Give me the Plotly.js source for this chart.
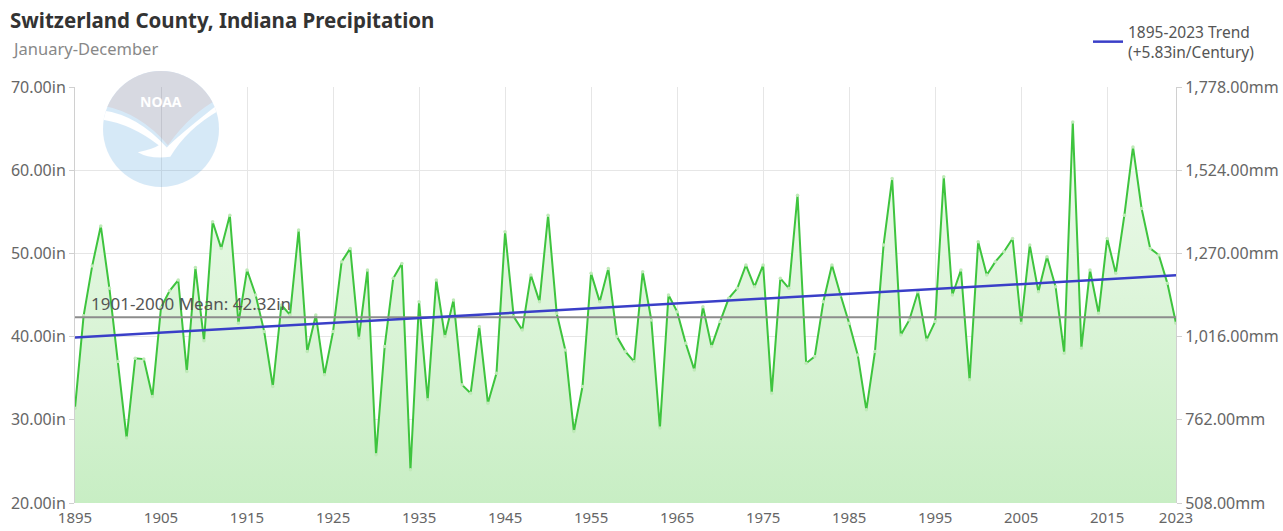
<!DOCTYPE html>
<html>
<head>
<meta charset="utf-8">
<script src="https://cdn.plot.ly/plotly-3.0.1.min.js"></script>
<style>html,body{margin:0;padding:0;background:#fff;}#chart{width:1283px;height:531px;}</style>
</head>
<body>
<div id="chart"></div>
<script>
const years = [];
for (let y = 1895; y <= 2023; y++) years.push(y);

const precipIn = [
  31.4, 42.5, 48.5, 53.3, 45.8, 37.0, 27.8, 37.4, 37.3, 32.8,
  43.5, 45.5, 46.8, 35.8, 48.3, 39.5, 53.8, 50.6, 54.6, 41.6,
  48.0, 45.0, 40.6, 34.0, 43.8, 42.6, 52.8, 38.2, 42.6, 35.4,
  40.6, 49.0, 50.6, 39.8, 48.0, 25.8, 38.8, 47.0, 48.8, 24.0,
  44.2, 32.4, 46.8, 40.0, 44.4, 34.2, 33.2, 41.2, 32.0, 35.6,
  52.6, 42.4, 40.8, 47.4, 44.2, 54.6, 42.8, 38.4, 28.6, 34.0,
  47.6, 44.2, 48.2, 40.0, 38.2, 37.0, 47.8, 42.0, 29.0, 45.0,
  43.0, 39.2, 36.0, 43.6, 38.8, 41.8, 44.6, 45.8, 48.6, 46.0,
  48.6, 33.2, 47.0, 45.8, 57.0, 36.8, 37.6, 44.2, 48.6, 45.0,
  41.6, 37.8, 31.2, 38.2, 51.0, 59.0, 40.2, 42.0, 45.4, 39.6,
  41.8, 59.2, 45.0, 48.0, 34.8, 51.4, 47.4, 49.0, 50.2, 51.8,
  41.6, 51.0, 45.4, 49.6, 46.0, 38.0, 65.8, 38.6, 48.0, 42.8,
  51.8, 47.6, 54.6, 62.8, 55.4, 50.6, 49.8, 46.4, 41.6
];

const trendYears = [1895, 2023];
const trendIn = [39.9, 47.36];
const meanValue = 42.32;
const meanLabel = '1901-2000 Mean: 42.32in';
const trendLabel = '1895-2023 Trend<br>(+5.83in/Century)';

const xTickVals = [1895, 1905, 1915, 1925, 1935, 1945, 1955, 1965, 1975, 1985, 1995, 2005, 2015, 2023];
const yTickVals = [20, 30, 40, 50, 60, 70];
const yTickText = ['20.00in', '30.00in', '40.00in', '50.00in', '60.00in', '70.00in'];
const y2TickVals = [508, 762, 1016, 1270, 1524, 1778];
const y2TickText = ['508.00mm', '762.00mm', '1,016.00mm', '1,270.00mm', '1,524.00mm', '1,778.00mm'];

const FONT = 'Noto Sans, Open Sans, sans-serif';

const logoSvg = "<svg xmlns='http://www.w3.org/2000/svg' viewBox='0 0 100 100'>" +
  "<defs><clipPath id='c'><circle cx='50' cy='50' r='50'/></clipPath></defs>" +
  "<circle cx='50' cy='50' r='50' fill='#3a95dc'/>" +
  "<g clip-path='url(#c)'>" +
  "<path d='M0,0 H100 V24 Q76,36 56,64 Q32,36 0,30 Z' fill='#3b4470'/>" +
  "<path d='M0,34 Q30,38 55,66 Q62,58 100,28 V34 Q72,50 58,74 Q40,76 30,70 Q44,67 48,64 Q25,46 0,42 Z' fill='white'/>" +
  "</g></svg>";
const logoUri = 'data:image/svg+xml;charset=utf-8,' + encodeURIComponent(logoSvg);

const traces = [
  {
    x: years, y: precipIn, type: 'scatter', mode: 'lines+markers',
    line: {color: '#3ec43e', width: 2},
    marker: {size: 3.5, color: '#bfeab8', line: {width: 0}},
    fill: 'tozeroy',
    fillgradient: {type: 'vertical', start: 20, stop: 66,
      colorscale: [[0, '#c8eec4'], [1, '#effbed']]},
    showlegend: false, hoverinfo: 'x+y'
  },
  {
    x: [1895, 2023], y: [meanValue, meanValue], type: 'scatter', mode: 'lines',
    line: {color: '#8c8c8c', width: 2}, showlegend: false, hoverinfo: 'skip'
  },
  {
    x: trendYears, y: trendIn, type: 'scatter', mode: 'lines',
    line: {color: '#3a3fc8', width: 2.5}, name: trendLabel, showlegend: true
  },
  {
    x: [1895, 2023], y: [508, 1778], type: 'scatter', mode: 'markers', yaxis: 'y2',
    marker: {opacity: 0}, showlegend: false, hoverinfo: 'skip'
  }
];

const layout = {
  width: 1283, height: 531,
  paper_bgcolor: '#ffffff', plot_bgcolor: '#ffffff',
  margin: {l: 75, r: 107, t: 87, b: 28},
  font: {family: FONT, color: '#666666', size: 16},
  title: {
    text: '<b>Switzerland County, Indiana Precipitation</b>',
    x: 10 / 1283, xref: 'container', xanchor: 'left',
    y: 1 - 21 / 531, yref: 'container', yanchor: 'middle',
    font: {family: FONT, size: 20.5, color: '#333333'}
  },
  xaxis: {
    range: [1895, 2023], tickvals: xTickVals, ticktext: xTickVals.map(String),
    showgrid: true, gridcolor: '#e6e6e6', gridwidth: 1,
    zeroline: false, showline: false, ticks: 'outside', ticklen: 1,
    tickcolor: 'rgba(0,0,0,0)',
    tickfont: {size: 15, color: '#666'}
  },
  yaxis: {
    range: [20, 70], tickvals: yTickVals, ticktext: yTickText,
    showgrid: true, gridcolor: '#e6e6e6', zeroline: false,
    showline: true, linecolor: '#d0d0d0', ticks: 'outside', ticklen: 5, tickcolor: '#d0d0d0',
    tickfont: {size: 16, color: '#666'}
  },
  yaxis2: {
    range: [508, 1778], tickvals: y2TickVals, ticktext: y2TickText,
    overlaying: 'y', side: 'right', showgrid: false, zeroline: false,
    showline: true, linecolor: '#d0d0d0', ticks: 'outside', ticklen: 5, tickcolor: '#d0d0d0',
    tickfont: {size: 16, color: '#666'}
  },
  showlegend: true,
  legend: {
    x: (1088 - 75) / 1101, xref: 'paper', xanchor: 'left',
    y: (503 - 15) / 416, yanchor: 'top',
    bgcolor: 'rgba(0,0,0,0)', font: {size: 15.5, color: '#555555', family: FONT}
  },
  annotations: [
    {
      text: 'January-December', xref: 'paper', yref: 'paper',
      x: (10 - 75) / 1101, y: (503 - 48) / 416, xanchor: 'left', yanchor: 'middle',
      showarrow: false, font: {size: 16.5, color: '#888888', family: FONT}
    },
    {
      text: meanLabel, xref: 'x', yref: 'y', x: 1896.6, y: meanValue,
      xanchor: 'left', yanchor: 'bottom', yshift: 0,
      showarrow: false, font: {size: 17, color: '#555555', family: FONT}
    },
    {
      text: '<b>NOAA</b>', xref: 'paper', yref: 'paper',
      x: (161 - 75) / 1101, y: (503 - 101) / 416, xanchor: 'center', yanchor: 'middle',
      showarrow: false, font: {size: 14, color: '#ffffff', family: FONT}
    }
  ],
  images: [
    {
      source: logoUri, xref: 'paper', yref: 'paper',
      x: (103 - 75) / 1101, y: (503 - 71) / 416,
      sizex: 116 / 1101, sizey: 116 / 416,
      xanchor: 'left', yanchor: 'top', sizing: 'stretch',
      opacity: 0.2, layer: 'above'
    }
  ]
};

Plotly.newPlot('chart', traces, layout, {displayModeBar: false, staticPlot: true});
</script>
</body>
</html>
